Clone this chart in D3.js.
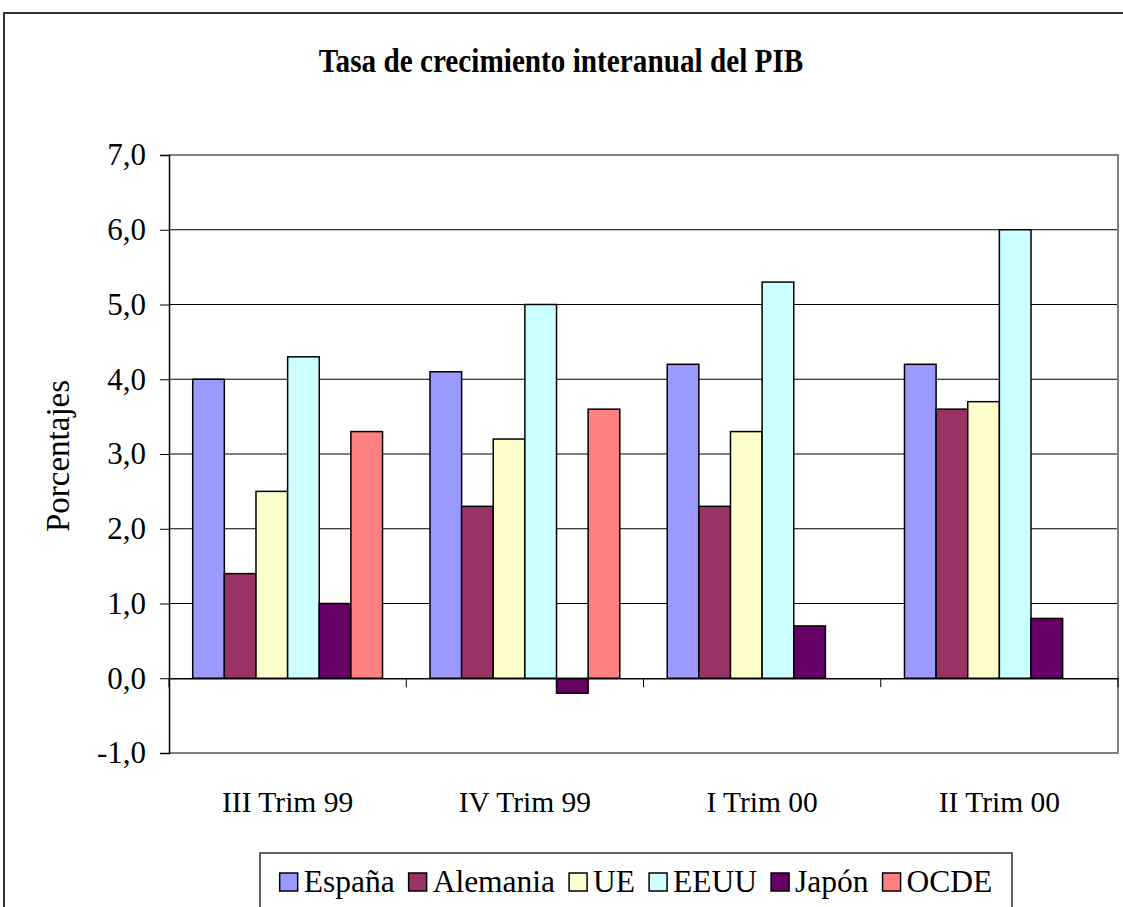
<!DOCTYPE html>
<html lang="es">
<head>
    <meta charset="UTF-8">
    <title>Tasa de crecimiento interanual del PIB</title>
    <script src="https://d3js.org/d3.v7.min.js"></script>
</head>
<body>
<style>
    body {
        margin: 0;
        background: #fff;
    }
    svg text {
        font-family: "Liberation Serif", "Times New Roman", serif;
        fill: #000;
    }
</style>
<script>
    // data
    var categories = ["III Trim 99", "IV Trim 99", "I Trim 00", "II Trim 00"];
    var seriesNames = ["España", "Alemania", "UE", "EEUU", "Japón", "OCDE"];
    var espana   = [4.0, 4.1, 4.2, 4.2];
    var alemania = [1.4, 2.3, 2.3, 3.6];
    var ue       = [2.5, 3.2, 3.3, 3.7];
    var eeuu     = [4.3, 5.0, 5.3, 6.0];
    var japon    = [1.0, -0.2, 0.7, 0.8];
    var ocde     = [3.3, 3.6, null, null];
    var seriesColors = ["#9999ff", "#993366", "#ffffcc", "#ccffff", "#660066", "#ff8080"];
    var yTicks = [-1, 0, 1, 2, 3, 4, 5, 6, 7];

    var seriesValues = [espana, alemania, ue, eeuu, japon, ocde];

    var W = 1123, H = 907;
    var plot = {left: 169, right: 1118, top: 155, bottom: 753};

    var svg = d3.select("body")
        .append("svg")
        .attr("width", W)
        .attr("height", H);

    // outer chart frame (cut off at bottom / right)
    svg.append("rect")
        .attr("x", 4)
        .attr("y", 13)
        .attr("width", W + 20)
        .attr("height", H + 20)
        .attr("fill", "#fff")
        .attr("stroke", "#333")
        .attr("stroke-width", 2);

    var x0 = d3.scaleBand()
        .domain(categories)
        .range([plot.left, plot.right])
        .padding(0);
    var x1 = d3.scaleBand()
        .domain(seriesNames)
        .range([0, x0.bandwidth()])
        .paddingInner(0)
        .paddingOuter(0.75);
    var y = d3.scaleLinear()
        .domain([-1, 7])
        .range([plot.bottom, plot.top]);
    var fmt = function (d) { return d.toFixed(1).replace(".", ","); };

    // title (the original face is a little narrower than Times)
    svg.append("text")
        .attr("transform", "translate(561,72) scale(0.86,1)")
        .attr("text-anchor", "middle")
        .style("font-size", "34px")
        .style("font-weight", "bold")
        .text("Tasa de crecimiento interanual del PIB");

    // gridlines
    svg.append("g")
        .selectAll("line")
        .data(yTicks.filter(function (d) { return d > 0 && d < 7; }))
        .enter().append("line")
        .attr("x1", plot.left)
        .attr("x2", plot.right)
        .attr("y1", function (d) { return y(d); })
        .attr("y2", function (d) { return y(d); })
        .attr("stroke", "#000")
        .attr("stroke-width", 1);

    // plot area border (top, right, bottom)
    svg.append("path")
        .attr("d", "M" + plot.left + "," + y(7) + "H" + plot.right + "V" + y(-1) + "H" + plot.left)
        .attr("fill", "none")
        .attr("stroke", "#808080")
        .attr("stroke-width", 2);

    // bars
    var groups = svg.append("g")
        .selectAll("g")
        .data(seriesNames)
        .enter().append("g")
        .attr("fill", function (d, i) { return seriesColors[i]; });

    groups.selectAll("rect")
        .data(function (name, i) {
            return categories.map(function (c, j) {
                return {cat: c, name: name, value: seriesValues[i][j]};
            }).filter(function (d) { return d.value !== null; });
        })
        .enter().append("rect")
        .attr("x", function (d) { return x0(d.cat) + x1(d.name); })
        .attr("width", x1.bandwidth())
        .attr("y", function (d) { return y(Math.max(0, d.value)); })
        .attr("height", function (d) { return Math.abs(y(d.value) - y(0)); })
        .attr("stroke", "#000")
        .attr("stroke-width", 1.5);

    // y axis
    var yAxis = svg.append("g")
        .attr("transform", "translate(" + plot.left + ",0)")
        .call(d3.axisLeft(y).tickValues(yTicks).tickFormat(fmt).tickSize(9).tickPadding(14));
    yAxis.attr("font-family", null);
    yAxis.select(".domain").attr("stroke", "#000").attr("stroke-width", 1.5);
    yAxis.selectAll(".tick line").attr("stroke", "#000");
    yAxis.selectAll("text")
        .style("font-size", "31px");

    // x axis at zero
    var xAxis = svg.append("g")
        .attr("transform", "translate(0," + y(0) + ")")
        .call(d3.axisBottom(x0).tickSize(0).tickFormat(""));
    xAxis.select(".domain").attr("stroke", "#000").attr("stroke-width", 1.5);
    var boundaries = categories.map(function (c) { return x0(c); }).concat([plot.right]);
    xAxis.selectAll(".sep")
        .data(boundaries)
        .enter().append("line")
        .attr("class", "sep")
        .attr("x1", function (d) { return d; })
        .attr("x2", function (d) { return d; })
        .attr("y1", 0)
        .attr("y2", 9)
        .attr("stroke", "#000");

    // category labels
    svg.append("g")
        .selectAll("text")
        .data(categories)
        .enter().append("text")
        .attr("x", function (d) { return x0(d) + x0.bandwidth() / 2; })
        .attr("y", 812)
        .attr("text-anchor", "middle")
        .style("font-size", "29.5px")
        .text(function (d) { return d; });

    // y axis title
    svg.append("text")
        .attr("transform", "translate(69,456) rotate(-90)")
        .attr("text-anchor", "middle")
        .style("font-size", "33px")
        .text("Porcentajes");

    // legend
    svg.append("rect")
        .attr("x", 260)
        .attr("y", 853)
        .attr("width", 752)
        .attr("height", 90)
        .attr("fill", "#fff")
        .attr("stroke", "#333")
        .attr("stroke-width", 1.5);

    var legend = svg.append("g");
    var lx = 0;
    seriesNames.forEach(function (name, i) {
        var item = legend.append("g").attr("transform", "translate(" + lx + ",0)");
        item.append("rect")
            .attr("x", 0)
            .attr("y", 873)
            .attr("width", 18)
            .attr("height", 18)
            .attr("fill", seriesColors[i])
            .attr("stroke", "#000")
            .attr("stroke-width", 1.5);
        var t = item.append("text")
            .attr("x", 24)
            .attr("y", 892)
            .style("font-size", "31.5px")
            .text(name);
        lx += 24 + t.node().getComputedTextLength() + 14;
    });
    var legendWidth = lx - 14;
    legend.attr("transform", "translate(" + (260 + (752 - legendWidth) / 2) + ",0)");
</script>
</body>
</html>
